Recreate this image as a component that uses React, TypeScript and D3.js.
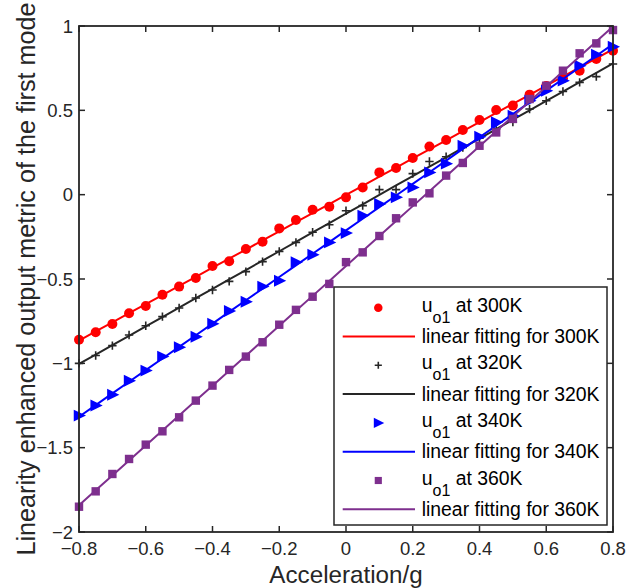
import React from "react";
import * as d3 from "d3";

const accel = [-0.8,-0.75,-0.7,-0.65,-0.6,-0.55,-0.5,-0.45,-0.4,-0.35,-0.3,-0.25,-0.2,-0.15,-0.1,-0.05,0,0.05,0.1,0.15,0.2,0.25,0.3,0.35,0.4,0.45,0.5,0.55,0.6,0.65,0.7,0.75,0.8];
const u300 = [-0.86,-0.816,-0.767,-0.703,-0.66,-0.593,-0.545,-0.494,-0.423,-0.395,-0.322,-0.279,-0.2,-0.15,-0.089,-0.071,-0.016,0.043,0.132,0.158,0.217,0.286,0.324,0.383,0.443,0.502,0.528,0.593,0.645,0.69,0.735,0.804,0.854];
const u320 = [-1.0,-0.954,-0.895,-0.832,-0.777,-0.723,-0.672,-0.613,-0.565,-0.514,-0.456,-0.397,-0.336,-0.283,-0.223,-0.178,-0.095,-0.065,0.03,0.03,0.125,0.197,0.225,0.28,0.335,0.39,0.43,0.508,0.557,0.612,0.666,0.70,0.775];
const u340 = [-1.31,-1.25,-1.186,-1.103,-1.043,-0.96,-0.905,-0.842,-0.765,-0.69,-0.635,-0.545,-0.51,-0.401,-0.356,-0.283,-0.228,-0.124,-0.055,-0.016,0.043,0.132,0.184,0.29,0.344,0.429,0.468,0.557,0.616,0.676,0.765,0.83,0.877];
const u360 = [-1.85,-1.759,-1.656,-1.567,-1.482,-1.403,-1.32,-1.221,-1.132,-1.039,-0.96,-0.875,-0.771,-0.683,-0.605,-0.529,-0.40,-0.342,-0.245,-0.14,-0.046,0.008,0.113,0.188,0.29,0.369,0.449,0.567,0.646,0.735,0.838,0.897,0.976];

const temps = ["300K", "320K", "340K", "360K"];
const xTicks = [-0.8, -0.6, -0.4, -0.2, 0, 0.2, 0.4, 0.6, 0.8];
const yTicks = [-2, -1.5, -1, -0.5, 0, 0.5, 1];

const colors = ["#ff0000", "#262626", "#0000ff", "#7e2f8e"];
const markers = ["circle", "plus", "triangle", "square"];
const seriesVals = [u300, u320, u340, u360];

const W = 626, H = 588;
const L = 79, R = 613, T = 26, B = 532;
const FONT = "'Liberation Sans', Arial, sans-serif";

function fit(xs: number[], ys: number[]) {
  const mx = d3.mean(xs)!, my = d3.mean(ys)!;
  let sxy = 0, sxx = 0;
  xs.forEach((x, i) => { sxy += (x - mx) * (ys[i] - my); sxx += (x - mx) * (x - mx); });
  const k = sxy / sxx;
  return { k, b: my - k * mx };
}

function Marker({ type, x, y, color, s }: { type: string; x: number; y: number; color: string; s: number }) {
  if (type === "circle") return <circle cx={x} cy={y} r={5 * s} fill={color} />;
  if (type === "plus") {
    const h = 4.2 * s;
    return <path d={`M${x - h},${y}H${x + h}M${x},${y - h}V${y + h}`} stroke={color} strokeWidth={1.6} fill="none" />;
  }
  if (type === "triangle") {
    const h = 7 * s;
    return <path d={`M${x + h},${y}L${x - h * 0.75},${y - h * 0.85}L${x - h * 0.75},${y + h * 0.85}Z`} fill={color} />;
  }
  const h = 4.2 * s;
  return <rect x={x - h} y={y - h} width={2 * h} height={2 * h} fill={color} />;
}

export default function App() {
  const x = d3.scaleLinear().domain([-0.8, 0.8]).range([L, R]);
  const y = d3.scaleLinear().domain([-2, 1]).range([B, T]);
  const line = d3.line<number>().x((_, i) => x(accel[i])).y((d) => y(d));

  const legX = 334, legY = 287, legW = 273, legH = 238;
  const row0 = 307.7, rowStep = 28.8;

  return (
    <svg width={W} height={H} style={{ position: "absolute", left: 0, top: 0, background: "#fff" }} fontFamily={FONT}>
      <rect x={0} y={0} width={W} height={H} fill="#fff" />
      {seriesVals.map((vals, si) => {
        const { k, b } = fit(accel, vals);
        const fitted = accel.map((a) => k * a + b);
        return (
          <g key={si}>
            {vals.map((v, i) => (
              <Marker key={i} type={markers[si]} x={x(accel[i])} y={y(v)} color={colors[si]} s={1} />
            ))}
            <path d={line(fitted) || ""} stroke={colors[si]} strokeWidth={2} fill="none" />
          </g>
        );
      })}
      {/* axes box */}
      <rect x={L} y={T} width={R - L} height={B - T} fill="none" stroke="#262626" strokeWidth={1.8} />
      {xTicks.map((t) => (
        <g key={"x" + t}>
          <line x1={x(t)} x2={x(t)} y1={B} y2={B - 6} stroke="#262626" strokeWidth={1.5} />
          <line x1={x(t)} x2={x(t)} y1={T} y2={T + 6} stroke="#262626" strokeWidth={1.5} />
          <text x={x(t)} y={554.5} textAnchor="middle" fontSize={18.5} fill="#262626">{d3.format("")(t)}</text>
        </g>
      ))}
      {yTicks.map((t) => (
        <g key={"y" + t}>
          <line x1={L} x2={L + 6} y1={y(t)} y2={y(t)} stroke="#262626" strokeWidth={1.5} />
          <line x1={R} x2={R - 6} y1={y(t)} y2={y(t)} stroke="#262626" strokeWidth={1.5} />
          <text x={73} y={y(t) + 6.5} textAnchor="end" fontSize={18.5} fill="#262626">{d3.format("")(t)}</text>
        </g>
      ))}
      <text x={(L + R) / 2} y={583} textAnchor="middle" fontSize={24.2} fill="#262626">Acceleration/g</text>
      <text transform={`translate(35,${(T + B) / 2}) rotate(-90)`} textAnchor="middle" fontSize={25.2} fill="#262626">
        Linearity enhanced output metric of the first mode
      </text>
      {/* legend */}
      <rect x={legX} y={legY} width={legW} height={legH} fill="#fff" stroke="#262626" strokeWidth={1.5} />
      {temps.map((tp, si) => {
        const cyM = row0 + rowStep * (2 * si);
        const cyL = row0 + rowStep * (2 * si + 1);
        return (
          <g key={tp}>
            <Marker type={markers[si]} x={378.3} y={cyM} color={colors[si]} s={0.85} />
            <text x={421.7} y={cyM + 4} fontSize={19.4} fill="#000">
              u<tspan dy={11} fontSize={16}>o1</tspan><tspan dy={-11}> at {tp}</tspan>
            </text>
            <line x1={342.7} x2={415} y1={cyL} y2={cyL} stroke={colors[si]} strokeWidth={2} />
            <text x={421.7} y={cyL + 6.5} fontSize={19.4} fill="#000">linear fitting for {tp}</text>
          </g>
        );
      })}
    </svg>
  );
}
